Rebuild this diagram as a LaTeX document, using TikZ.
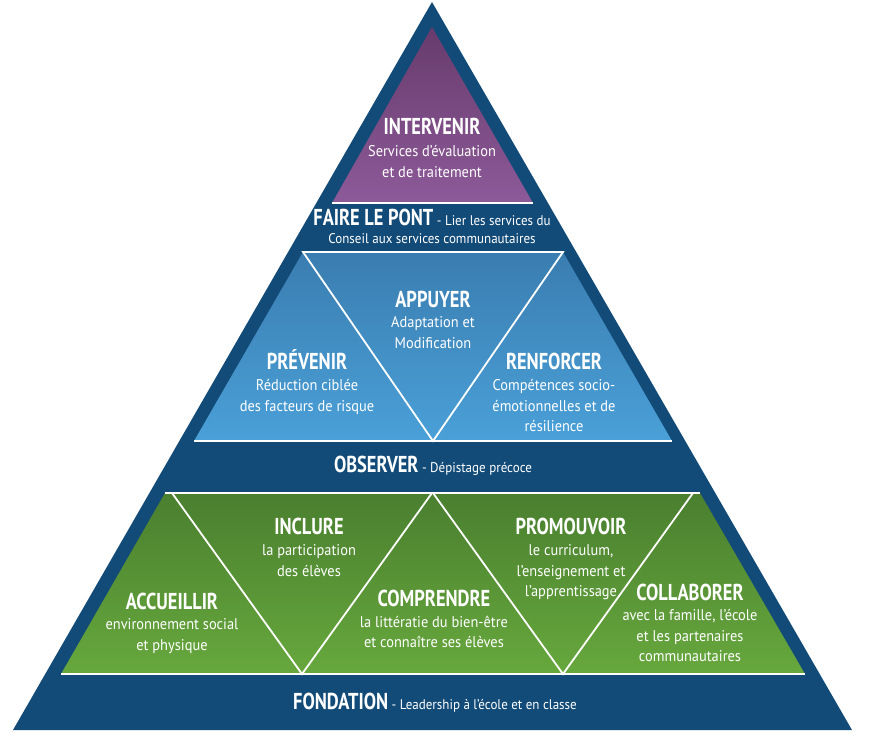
\documentclass[tikz,border=0pt]{standalone}
\usepackage{fontspec}
\setmainfont{PT Sans}
\newfontfamily\titrefamily{PT Sans}[FakeStretch=0.8]
\newfontfamily\corpsfamily{PT Sans}[FakeStretch=0.93]
\usetikzlibrary{positioning}
\definecolor{fondbleu}{HTML}{134B78}
\definecolor{violethaut}{HTML}{673B6C}
\definecolor{violetbas}{HTML}{8D5A99}
\definecolor{bleuhaut}{HTML}{3A7DB0}
\definecolor{bleubas}{HTML}{4AA0D8}
\definecolor{verthaut}{HTML}{4A7F2F}
\definecolor{vertbas}{HTML}{67A83D}
\newcommand\fonttitre{\titrefamily\bfseries\fontsize{23}{26}\selectfont}
\newcommand\fontcorps{\corpsfamily\fontsize{15.5}{20.5}\selectfont}
\newcommand\fontligne{\corpsfamily\fontsize{14}{18}\selectfont}
\tikzset{
titre/.style={text=white,font=\fonttitre,inner sep=0pt,anchor=base},
corps/.style={text=white,font=\fontcorps,align=center,inner sep=0pt,anchor=north},
ligne/.style={text=white,font=\fontligne,inner sep=0pt,anchor=base},
trait/.style={draw=white,line width=1.8pt},
}
\begin{document}
\begin{tikzpicture}[x=1pt,y=-1pt]
\useasboundingbox (0,0) rectangle (872,741);
% fond
\fill[fondbleu] (432,2) -- (852,730) -- (13,730) -- cycle;
% sommet
\shade[top color=violethaut,bottom color=violetbas] (432,27) -- (533,203) -- (332,203) -- cycle;
\draw[trait] (332,203) -- (533,203);
% niveau bleu
\shade[top color=bleuhaut,bottom color=bleubas] (303,252) -- (563,252) -- (672,441) -- (194,441) -- cycle;
\draw[trait] (303,252) -- (433,441) -- (563,252) -- cycle;
\draw[trait] (194,441) -- (672,441);
% niveau vert
\shade[top color=verthaut,bottom color=vertbas] (165,493) -- (700,493) -- (805,674) -- (61,674) -- cycle;
\draw[trait] (165,493) -- (700,493);
\draw[trait] (61,674) -- (805,674);
\draw[trait] (172,493) -- (302,674) -- (432,493);
\draw[trait] (433,493) -- (563,674) -- (693,493);

\node[titre] (intervenir) at (432,135) {INTERVENIR};
\node[corps,below=10pt of intervenir] (intervenir-txt) {Services d’évaluation\\et de traitement};

\node[ligne] (pont) at (432,225) {{\fonttitre FAIRE LE PONT} - Lier les services du};
\node[ligne] (pont-suite) at (432,243) {Conseil aux services communautaires};

\node[titre] (appuyer) at (433,307) {APPUYER};
\node[corps,below=9pt of appuyer] (appuyer-txt) {Adaptation et\\Modification};
\node[titre] (prevenir) at (307,369) {PRÉVENIR};
\node[corps,below=10pt of prevenir] (prevenir-txt) {Réduction ciblée\\des facteurs de risque};
\node[titre] (renforcer) at (554,369) {RENFORCER};
\node[corps,below=10pt of renforcer] (renforcer-txt) {Compétences socio-\\émotionnelles et de\\résilience};

\node[ligne] (observer) at (433,472) {{\fonttitre OBSERVER} - Dépistage précoce};

\node[titre] (inclure) at (309,534) {INCLURE};
\node[corps,below=10pt of inclure] (inclure-txt) {la participation\\des élèves};
\node[titre] (promouvoir) at (571,534) {PROMOUVOIR};
\node[corps,below=10pt of promouvoir] (promouvoir-txt) {le curriculum,\\l’enseignement et\\l’apprentissage};
\node[titre] (accueillir) at (172,609) {ACCUEILLIR};
\node[corps,below=9pt of accueillir] (accueillir-txt) {environnement social\\et physique};
\node[titre] (comprendre) at (434,606) {COMPRENDRE};
\node[corps,below=9pt of comprendre] (comprendre-txt) {la littératie du bien-être\\et connaître ses élèves};
\node[titre] (collaborer) at (690,600) {COLLABORER};
\node[corps,below=9pt of collaborer] (collaborer-txt) {avec la famille, l’école\\et les partenaires\\communautaires};

\node[ligne] (fondation) at (435,709) {{\fonttitre FONDATION} - Leadership à l’école et en classe};
\end{tikzpicture}
\end{document}
